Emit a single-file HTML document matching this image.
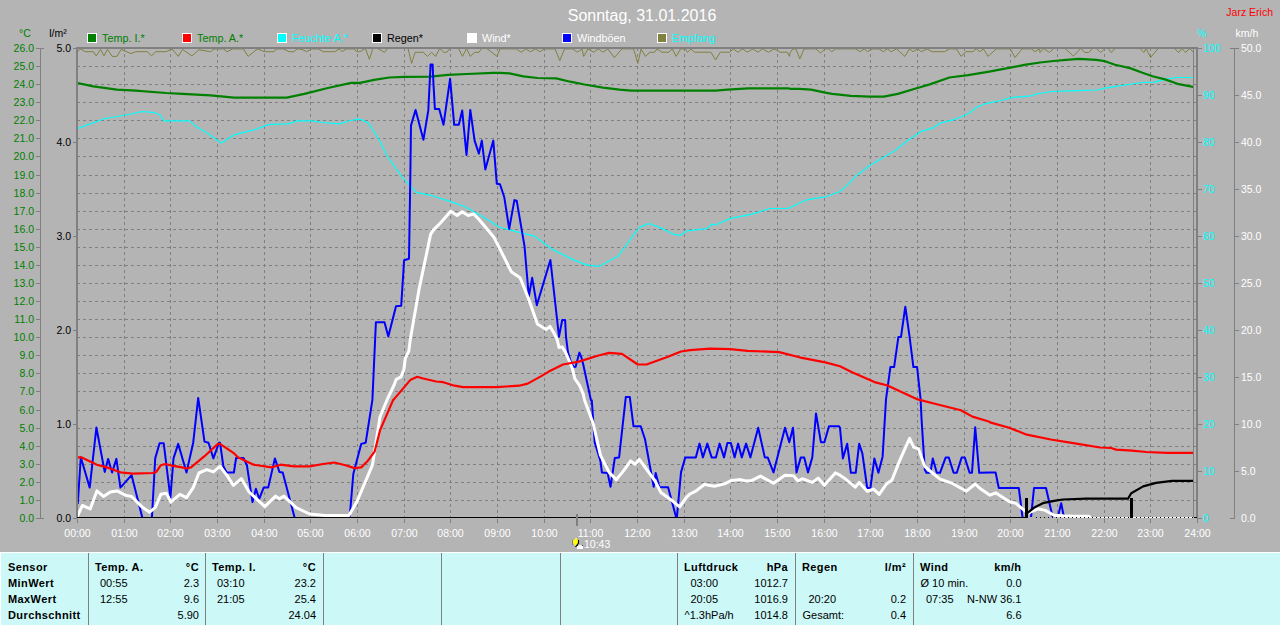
<!DOCTYPE html><html><head><meta charset="utf-8"><style>
html,body{margin:0;padding:0;width:1280px;height:625px;overflow:hidden;background:#b4b4b4;}
svg{display:block;position:absolute;left:0;top:0;font-family:"Liberation Sans", sans-serif;}
</style></head><body>
<svg width="1280" height="625" viewBox="0 0 1280 625">
<rect x="0" y="0" width="1280" height="625" fill="#b4b4b4"/>
<line x1="77" y1="500.5" x2="1196" y2="500.5" stroke="#808080" stroke-width="1" stroke-dasharray="3,3"/>
<line x1="77" y1="482.5" x2="1196" y2="482.5" stroke="#808080" stroke-width="1" stroke-dasharray="3,3"/>
<line x1="77" y1="464.5" x2="1196" y2="464.5" stroke="#808080" stroke-width="1" stroke-dasharray="3,3"/>
<line x1="77" y1="446.5" x2="1196" y2="446.5" stroke="#808080" stroke-width="1" stroke-dasharray="3,3"/>
<line x1="77" y1="428.5" x2="1196" y2="428.5" stroke="#808080" stroke-width="1" stroke-dasharray="3,3"/>
<line x1="77" y1="410.5" x2="1196" y2="410.5" stroke="#808080" stroke-width="1" stroke-dasharray="3,3"/>
<line x1="77" y1="391.5" x2="1196" y2="391.5" stroke="#808080" stroke-width="1" stroke-dasharray="3,3"/>
<line x1="77" y1="373.5" x2="1196" y2="373.5" stroke="#808080" stroke-width="1" stroke-dasharray="3,3"/>
<line x1="77" y1="355.5" x2="1196" y2="355.5" stroke="#808080" stroke-width="1" stroke-dasharray="3,3"/>
<line x1="77" y1="337.5" x2="1196" y2="337.5" stroke="#808080" stroke-width="1" stroke-dasharray="3,3"/>
<line x1="77" y1="319.5" x2="1196" y2="319.5" stroke="#808080" stroke-width="1" stroke-dasharray="3,3"/>
<line x1="77" y1="301.5" x2="1196" y2="301.5" stroke="#808080" stroke-width="1" stroke-dasharray="3,3"/>
<line x1="77" y1="283.5" x2="1196" y2="283.5" stroke="#808080" stroke-width="1" stroke-dasharray="3,3"/>
<line x1="77" y1="265.5" x2="1196" y2="265.5" stroke="#808080" stroke-width="1" stroke-dasharray="3,3"/>
<line x1="77" y1="247.5" x2="1196" y2="247.5" stroke="#808080" stroke-width="1" stroke-dasharray="3,3"/>
<line x1="77" y1="229.5" x2="1196" y2="229.5" stroke="#808080" stroke-width="1" stroke-dasharray="3,3"/>
<line x1="77" y1="211.5" x2="1196" y2="211.5" stroke="#808080" stroke-width="1" stroke-dasharray="3,3"/>
<line x1="77" y1="193.5" x2="1196" y2="193.5" stroke="#808080" stroke-width="1" stroke-dasharray="3,3"/>
<line x1="77" y1="175.5" x2="1196" y2="175.5" stroke="#808080" stroke-width="1" stroke-dasharray="3,3"/>
<line x1="77" y1="156.5" x2="1196" y2="156.5" stroke="#808080" stroke-width="1" stroke-dasharray="3,3"/>
<line x1="77" y1="138.5" x2="1196" y2="138.5" stroke="#808080" stroke-width="1" stroke-dasharray="3,3"/>
<line x1="77" y1="120.5" x2="1196" y2="120.5" stroke="#808080" stroke-width="1" stroke-dasharray="3,3"/>
<line x1="77" y1="102.5" x2="1196" y2="102.5" stroke="#808080" stroke-width="1" stroke-dasharray="3,3"/>
<line x1="77" y1="84.5" x2="1196" y2="84.5" stroke="#808080" stroke-width="1" stroke-dasharray="3,3"/>
<line x1="77" y1="66.5" x2="1196" y2="66.5" stroke="#808080" stroke-width="1" stroke-dasharray="3,3"/>
<line x1="124.5" y1="48" x2="124.5" y2="518" stroke="#808080" stroke-width="1" stroke-dasharray="3,3"/>
<line x1="170.5" y1="48" x2="170.5" y2="518" stroke="#808080" stroke-width="1" stroke-dasharray="3,3"/>
<line x1="217.5" y1="48" x2="217.5" y2="518" stroke="#808080" stroke-width="1" stroke-dasharray="3,3"/>
<line x1="264.5" y1="48" x2="264.5" y2="518" stroke="#808080" stroke-width="1" stroke-dasharray="3,3"/>
<line x1="310.5" y1="48" x2="310.5" y2="518" stroke="#808080" stroke-width="1" stroke-dasharray="3,3"/>
<line x1="357.5" y1="48" x2="357.5" y2="518" stroke="#808080" stroke-width="1" stroke-dasharray="3,3"/>
<line x1="404.5" y1="48" x2="404.5" y2="518" stroke="#808080" stroke-width="1" stroke-dasharray="3,3"/>
<line x1="450.5" y1="48" x2="450.5" y2="518" stroke="#808080" stroke-width="1" stroke-dasharray="3,3"/>
<line x1="497.5" y1="48" x2="497.5" y2="518" stroke="#808080" stroke-width="1" stroke-dasharray="3,3"/>
<line x1="544.5" y1="48" x2="544.5" y2="518" stroke="#808080" stroke-width="1" stroke-dasharray="3,3"/>
<line x1="590.5" y1="48" x2="590.5" y2="518" stroke="#808080" stroke-width="1" stroke-dasharray="3,3"/>
<line x1="637.5" y1="48" x2="637.5" y2="518" stroke="#808080" stroke-width="1" stroke-dasharray="3,3"/>
<line x1="684.5" y1="48" x2="684.5" y2="518" stroke="#808080" stroke-width="1" stroke-dasharray="3,3"/>
<line x1="730.5" y1="48" x2="730.5" y2="518" stroke="#808080" stroke-width="1" stroke-dasharray="3,3"/>
<line x1="777.5" y1="48" x2="777.5" y2="518" stroke="#808080" stroke-width="1" stroke-dasharray="3,3"/>
<line x1="824.5" y1="48" x2="824.5" y2="518" stroke="#808080" stroke-width="1" stroke-dasharray="3,3"/>
<line x1="870.5" y1="48" x2="870.5" y2="518" stroke="#808080" stroke-width="1" stroke-dasharray="3,3"/>
<line x1="917.5" y1="48" x2="917.5" y2="518" stroke="#808080" stroke-width="1" stroke-dasharray="3,3"/>
<line x1="964.5" y1="48" x2="964.5" y2="518" stroke="#808080" stroke-width="1" stroke-dasharray="3,3"/>
<line x1="1010.5" y1="48" x2="1010.5" y2="518" stroke="#808080" stroke-width="1" stroke-dasharray="3,3"/>
<line x1="1057.5" y1="48" x2="1057.5" y2="518" stroke="#808080" stroke-width="1" stroke-dasharray="3,3"/>
<line x1="1104.5" y1="48" x2="1104.5" y2="518" stroke="#808080" stroke-width="1" stroke-dasharray="3,3"/>
<line x1="1150.5" y1="48" x2="1150.5" y2="518" stroke="#808080" stroke-width="1" stroke-dasharray="3,3"/>
<rect x="76" y="47" width="1122" height="2" fill="#808080"/>
<rect x="76" y="47" width="2" height="471" fill="#808080"/>
<rect x="1196" y="47" width="2" height="471" fill="#808080"/>
<rect x="1193" y="49" width="1" height="469" fill="#808080"/>
<rect x="40" y="48" width="1" height="470" fill="#808080"/>
<rect x="36" y="518" width="8" height="1" fill="#808080"/>
<text x="34" y="522" text-anchor="end" fill="#008000" font-size="10.5">0.0</text>
<rect x="36" y="500" width="4" height="1" fill="#808080"/>
<text x="34" y="504" text-anchor="end" fill="#008000" font-size="10.5">1.0</text>
<rect x="36" y="482" width="4" height="1" fill="#808080"/>
<text x="34" y="486" text-anchor="end" fill="#008000" font-size="10.5">2.0</text>
<rect x="36" y="464" width="4" height="1" fill="#808080"/>
<text x="34" y="468" text-anchor="end" fill="#008000" font-size="10.5">3.0</text>
<rect x="36" y="446" width="4" height="1" fill="#808080"/>
<text x="34" y="450" text-anchor="end" fill="#008000" font-size="10.5">4.0</text>
<rect x="36" y="428" width="4" height="1" fill="#808080"/>
<text x="34" y="432" text-anchor="end" fill="#008000" font-size="10.5">5.0</text>
<rect x="36" y="410" width="4" height="1" fill="#808080"/>
<text x="34" y="414" text-anchor="end" fill="#008000" font-size="10.5">6.0</text>
<rect x="36" y="391" width="4" height="1" fill="#808080"/>
<text x="34" y="395" text-anchor="end" fill="#008000" font-size="10.5">7.0</text>
<rect x="36" y="373" width="4" height="1" fill="#808080"/>
<text x="34" y="377" text-anchor="end" fill="#008000" font-size="10.5">8.0</text>
<rect x="36" y="355" width="4" height="1" fill="#808080"/>
<text x="34" y="359" text-anchor="end" fill="#008000" font-size="10.5">9.0</text>
<rect x="36" y="337" width="4" height="1" fill="#808080"/>
<text x="34" y="341" text-anchor="end" fill="#008000" font-size="10.5">10.0</text>
<rect x="36" y="319" width="4" height="1" fill="#808080"/>
<text x="34" y="323" text-anchor="end" fill="#008000" font-size="10.5">11.0</text>
<rect x="36" y="301" width="4" height="1" fill="#808080"/>
<text x="34" y="305" text-anchor="end" fill="#008000" font-size="10.5">12.0</text>
<rect x="36" y="283" width="4" height="1" fill="#808080"/>
<text x="34" y="287" text-anchor="end" fill="#008000" font-size="10.5">13.0</text>
<rect x="36" y="265" width="4" height="1" fill="#808080"/>
<text x="34" y="269" text-anchor="end" fill="#008000" font-size="10.5">14.0</text>
<rect x="36" y="247" width="4" height="1" fill="#808080"/>
<text x="34" y="251" text-anchor="end" fill="#008000" font-size="10.5">15.0</text>
<rect x="36" y="229" width="4" height="1" fill="#808080"/>
<text x="34" y="233" text-anchor="end" fill="#008000" font-size="10.5">16.0</text>
<rect x="36" y="211" width="4" height="1" fill="#808080"/>
<text x="34" y="215" text-anchor="end" fill="#008000" font-size="10.5">17.0</text>
<rect x="36" y="193" width="4" height="1" fill="#808080"/>
<text x="34" y="197" text-anchor="end" fill="#008000" font-size="10.5">18.0</text>
<rect x="36" y="175" width="4" height="1" fill="#808080"/>
<text x="34" y="179" text-anchor="end" fill="#008000" font-size="10.5">19.0</text>
<rect x="36" y="156" width="4" height="1" fill="#808080"/>
<text x="34" y="160" text-anchor="end" fill="#008000" font-size="10.5">20.0</text>
<rect x="36" y="138" width="4" height="1" fill="#808080"/>
<text x="34" y="142" text-anchor="end" fill="#008000" font-size="10.5">21.0</text>
<rect x="36" y="120" width="4" height="1" fill="#808080"/>
<text x="34" y="124" text-anchor="end" fill="#008000" font-size="10.5">22.0</text>
<rect x="36" y="102" width="4" height="1" fill="#808080"/>
<text x="34" y="106" text-anchor="end" fill="#008000" font-size="10.5">23.0</text>
<rect x="36" y="84" width="4" height="1" fill="#808080"/>
<text x="34" y="88" text-anchor="end" fill="#008000" font-size="10.5">24.0</text>
<rect x="36" y="66" width="4" height="1" fill="#808080"/>
<text x="34" y="70" text-anchor="end" fill="#008000" font-size="10.5">25.0</text>
<rect x="36" y="48" width="8" height="1" fill="#808080"/>
<text x="34" y="52" text-anchor="end" fill="#008000" font-size="10.5">26.0</text>
<rect x="73" y="518" width="4" height="1" fill="#808080"/>
<text x="71" y="522" text-anchor="end" fill="#000" font-size="10.5">0.0</text>
<rect x="73" y="424" width="4" height="1" fill="#808080"/>
<text x="71" y="428" text-anchor="end" fill="#000" font-size="10.5">1.0</text>
<rect x="73" y="330" width="4" height="1" fill="#808080"/>
<text x="71" y="334" text-anchor="end" fill="#000" font-size="10.5">2.0</text>
<rect x="73" y="236" width="4" height="1" fill="#808080"/>
<text x="71" y="240" text-anchor="end" fill="#000" font-size="10.5">3.0</text>
<rect x="73" y="142" width="4" height="1" fill="#808080"/>
<text x="71" y="146" text-anchor="end" fill="#000" font-size="10.5">4.0</text>
<rect x="73" y="48" width="4" height="1" fill="#808080"/>
<text x="71" y="52" text-anchor="end" fill="#000" font-size="10.5">5.0</text>
<rect x="1197" y="518" width="5" height="1" fill="#808080"/>
<text x="1203" y="522" fill="#00ffff" font-size="10.5">0</text>
<rect x="1197" y="471" width="5" height="1" fill="#808080"/>
<text x="1203" y="475" fill="#00ffff" font-size="10.5">10</text>
<rect x="1197" y="424" width="5" height="1" fill="#808080"/>
<text x="1203" y="428" fill="#00ffff" font-size="10.5">20</text>
<rect x="1197" y="377" width="5" height="1" fill="#808080"/>
<text x="1203" y="381" fill="#00ffff" font-size="10.5">30</text>
<rect x="1197" y="330" width="5" height="1" fill="#808080"/>
<text x="1203" y="334" fill="#00ffff" font-size="10.5">40</text>
<rect x="1197" y="283" width="5" height="1" fill="#808080"/>
<text x="1203" y="287" fill="#00ffff" font-size="10.5">50</text>
<rect x="1197" y="236" width="5" height="1" fill="#808080"/>
<text x="1203" y="240" fill="#00ffff" font-size="10.5">60</text>
<rect x="1197" y="189" width="5" height="1" fill="#808080"/>
<text x="1203" y="193" fill="#00ffff" font-size="10.5">70</text>
<rect x="1197" y="142" width="5" height="1" fill="#808080"/>
<text x="1203" y="146" fill="#00ffff" font-size="10.5">80</text>
<rect x="1197" y="95" width="5" height="1" fill="#808080"/>
<text x="1203" y="99" fill="#00ffff" font-size="10.5">90</text>
<rect x="1197" y="48" width="5" height="1" fill="#808080"/>
<text x="1203" y="52" fill="#00ffff" font-size="10.5">100</text>
<rect x="1234" y="48" width="1" height="470" fill="#808080"/>
<rect x="1230" y="518" width="5" height="1" fill="#808080"/>
<text x="1241" y="522" fill="#fff" font-size="10.5">0.0</text>
<rect x="1234" y="471" width="5" height="1" fill="#808080"/>
<text x="1241" y="475" fill="#fff" font-size="10.5">5.0</text>
<rect x="1234" y="424" width="5" height="1" fill="#808080"/>
<text x="1241" y="428" fill="#fff" font-size="10.5">10.0</text>
<rect x="1234" y="377" width="5" height="1" fill="#808080"/>
<text x="1241" y="381" fill="#fff" font-size="10.5">15.0</text>
<rect x="1234" y="330" width="5" height="1" fill="#808080"/>
<text x="1241" y="334" fill="#fff" font-size="10.5">20.0</text>
<rect x="1234" y="283" width="5" height="1" fill="#808080"/>
<text x="1241" y="287" fill="#fff" font-size="10.5">25.0</text>
<rect x="1234" y="236" width="5" height="1" fill="#808080"/>
<text x="1241" y="240" fill="#fff" font-size="10.5">30.0</text>
<rect x="1234" y="189" width="5" height="1" fill="#808080"/>
<text x="1241" y="193" fill="#fff" font-size="10.5">35.0</text>
<rect x="1234" y="142" width="5" height="1" fill="#808080"/>
<text x="1241" y="146" fill="#fff" font-size="10.5">40.0</text>
<rect x="1234" y="95" width="5" height="1" fill="#808080"/>
<text x="1241" y="99" fill="#fff" font-size="10.5">45.0</text>
<rect x="1230" y="48" width="9" height="1" fill="#808080"/>
<text x="1241" y="52" fill="#fff" font-size="10.5">50.0</text>
<rect x="77" y="519" width="1" height="4" fill="#808080"/>
<text x="77.5" y="537" text-anchor="middle" fill="#fff" font-size="10.5">00:00</text>
<rect x="124" y="519" width="1" height="4" fill="#808080"/>
<text x="124.5" y="537" text-anchor="middle" fill="#fff" font-size="10.5">01:00</text>
<rect x="170" y="519" width="1" height="4" fill="#808080"/>
<text x="170.5" y="537" text-anchor="middle" fill="#fff" font-size="10.5">02:00</text>
<rect x="217" y="519" width="1" height="4" fill="#808080"/>
<text x="217.5" y="537" text-anchor="middle" fill="#fff" font-size="10.5">03:00</text>
<rect x="264" y="519" width="1" height="4" fill="#808080"/>
<text x="264.5" y="537" text-anchor="middle" fill="#fff" font-size="10.5">04:00</text>
<rect x="310" y="519" width="1" height="4" fill="#808080"/>
<text x="310.5" y="537" text-anchor="middle" fill="#fff" font-size="10.5">05:00</text>
<rect x="357" y="519" width="1" height="4" fill="#808080"/>
<text x="357.5" y="537" text-anchor="middle" fill="#fff" font-size="10.5">06:00</text>
<rect x="404" y="519" width="1" height="4" fill="#808080"/>
<text x="404.5" y="537" text-anchor="middle" fill="#fff" font-size="10.5">07:00</text>
<rect x="450" y="519" width="1" height="4" fill="#808080"/>
<text x="450.5" y="537" text-anchor="middle" fill="#fff" font-size="10.5">08:00</text>
<rect x="497" y="519" width="1" height="4" fill="#808080"/>
<text x="497.5" y="537" text-anchor="middle" fill="#fff" font-size="10.5">09:00</text>
<rect x="544" y="519" width="1" height="4" fill="#808080"/>
<text x="544.5" y="537" text-anchor="middle" fill="#fff" font-size="10.5">10:00</text>
<rect x="590" y="519" width="1" height="4" fill="#808080"/>
<text x="590.5" y="537" text-anchor="middle" fill="#fff" font-size="10.5">11:00</text>
<rect x="637" y="519" width="1" height="4" fill="#808080"/>
<text x="637.5" y="537" text-anchor="middle" fill="#fff" font-size="10.5">12:00</text>
<rect x="684" y="519" width="1" height="4" fill="#808080"/>
<text x="684.5" y="537" text-anchor="middle" fill="#fff" font-size="10.5">13:00</text>
<rect x="730" y="519" width="1" height="4" fill="#808080"/>
<text x="730.5" y="537" text-anchor="middle" fill="#fff" font-size="10.5">14:00</text>
<rect x="777" y="519" width="1" height="4" fill="#808080"/>
<text x="777.5" y="537" text-anchor="middle" fill="#fff" font-size="10.5">15:00</text>
<rect x="824" y="519" width="1" height="4" fill="#808080"/>
<text x="824.5" y="537" text-anchor="middle" fill="#fff" font-size="10.5">16:00</text>
<rect x="870" y="519" width="1" height="4" fill="#808080"/>
<text x="870.5" y="537" text-anchor="middle" fill="#fff" font-size="10.5">17:00</text>
<rect x="917" y="519" width="1" height="4" fill="#808080"/>
<text x="917.5" y="537" text-anchor="middle" fill="#fff" font-size="10.5">18:00</text>
<rect x="964" y="519" width="1" height="4" fill="#808080"/>
<text x="964.5" y="537" text-anchor="middle" fill="#fff" font-size="10.5">19:00</text>
<rect x="1010" y="519" width="1" height="4" fill="#808080"/>
<text x="1010.5" y="537" text-anchor="middle" fill="#fff" font-size="10.5">20:00</text>
<rect x="1057" y="519" width="1" height="4" fill="#808080"/>
<text x="1057.5" y="537" text-anchor="middle" fill="#fff" font-size="10.5">21:00</text>
<rect x="1104" y="519" width="1" height="4" fill="#808080"/>
<text x="1104.5" y="537" text-anchor="middle" fill="#fff" font-size="10.5">22:00</text>
<rect x="1150" y="519" width="1" height="4" fill="#808080"/>
<text x="1150.5" y="537" text-anchor="middle" fill="#fff" font-size="10.5">23:00</text>
<rect x="1197" y="519" width="1" height="4" fill="#808080"/>
<text x="1197.5" y="537" text-anchor="middle" fill="#fff" font-size="10.5">24:00</text>
<text x="25" y="37" text-anchor="middle" fill="#008000" font-size="10.5">°C</text>
<text x="58" y="37" text-anchor="middle" fill="#000" font-size="10.5">l/m²</text>
<text x="1202" y="37" text-anchor="middle" fill="#00ffff" font-size="10.5">%</text>
<text x="1247" y="37" text-anchor="middle" fill="#fff" font-size="10.5">km/h</text>
<text x="1273" y="16" text-anchor="end" fill="#ff0000" font-size="10.5">Jarz Erich</text>
<text x="642" y="21" text-anchor="middle" fill="#fff" font-size="16">Sonntag, 31.01.2016</text>
<rect x="87.5" y="33.5" width="9" height="9" fill="#008000" stroke="#fff" stroke-width="1"/>
<text x="102" y="42" fill="#008000" font-size="10.8">Temp. I.*</text>
<rect x="182.5" y="33.5" width="9" height="9" fill="#ff0000" stroke="#fff" stroke-width="1"/>
<text x="197" y="42" fill="#008000" font-size="10.8">Temp. A.*</text>
<rect x="277.5" y="33.5" width="9" height="9" fill="#00ffff" stroke="#fff" stroke-width="1"/>
<text x="292" y="42" fill="#00ffff" font-size="10.8">Feuchte A.*</text>
<rect x="372.5" y="33.5" width="9" height="9" fill="#000000" stroke="#fff" stroke-width="1"/>
<text x="387" y="42" fill="#000" font-size="10.8">Regen*</text>
<rect x="467.5" y="33.5" width="9" height="9" fill="#ffffff" stroke="#fff" stroke-width="1"/>
<text x="482" y="42" fill="#fff" font-size="10.8">Wind*</text>
<rect x="562.5" y="33.5" width="9" height="9" fill="#0000ff" stroke="#fff" stroke-width="1"/>
<text x="577" y="42" fill="#fff" font-size="10.8">Windböen</text>
<rect x="657.5" y="33.5" width="9" height="9" fill="#808040" stroke="#fff" stroke-width="1"/>
<text x="672" y="42" fill="#00ffff" font-size="10.8">Empfang</text>
<clipPath id="pc"><rect x="78" y="49" width="1115" height="469"/></clipPath><g clip-path="url(#pc)" fill="none" stroke-linejoin="round" stroke-linecap="round">
<polyline points="77.5,51.7 80.5,48.9 85.2,51.7 93.4,51.7 96.2,55.9 100.5,49.4 104.0,55.9 107.5,49.4 112.2,56.4 116.9,56.4 121.1,49.4 130.9,53.6 135.6,51.7 147.3,51.7 151.6,55.9 155.5,51.7 166.1,51.7 172.0,48.9 178.3,56.4 182.5,49.4 191.9,55.9 198.9,49.8 210.6,51.7 214.1,48.9 223.5,48.9 227.0,51.7 232.9,48.9 243.4,48.9 248.1,56.4 257.5,48.9 264.5,51.7 273.9,51.7 276.2,48.9 283.3,48.9 289.1,51.7 293.8,51.7 297.3,48.9 302.0,49.4 306.7,51.7 311.4,48.9 318.4,48.9 323.1,51.7 334.8,51.7 339.5,48.9 341.9,51.7 346.6,48.9 353.6,48.9 357.1,51.7 360.0,51.7 365.3,48.4 369.4,59.3 372.9,48.4 377.6,48.4 384.6,52.3 387.5,48.4 408.0,48.4 411.6,63.4 415.1,52.3 423.3,52.3 427.4,56.4 431.5,52.3 435.6,56.4 439.7,48.4 443.8,52.3 446.7,52.3 450.2,48.4 458.4,48.4 462.5,56.4 466.6,48.4 470.2,56.4 474.8,52.3 478.9,52.3 481.9,48.4 486.6,48.4 497.1,56.4 500.0,48.9 516.4,48.9 521.1,52.2 525.8,48.9 530.5,51.7 535.2,48.9 539.8,51.7 544.5,48.9 555.1,48.9 559.8,60.6 564.5,48.9 572.7,48.9 577.3,52.2 582.0,48.9 583.7,56.4 587.9,48.9 593.8,52.2 598.4,48.9 603.1,52.2 607.8,48.9 614.4,57.6 621.9,48.9 633.6,48.9 637.8,63.4 641.1,48.9 645.3,56.4 650.0,52.2 654.7,52.2 657.0,48.9 661.7,52.2 668.8,52.2 672.3,48.9 676.2,56.4 680.5,48.9 685.2,48.9 687.5,52.2 691.0,48.9 694.5,52.2 710.9,52.2 715.6,59.9 720.3,52.2 729.7,52.2 733.2,48.9 737.9,52.2 742.6,48.9 747.3,52.2 753.1,48.9 757.8,52.2 762.5,48.9 768.4,52.2 774.2,48.9 780.1,52.2 787.1,52.2 789.5,56.4 790.0,52.9 792.8,48.9 795.9,48.9 799.8,58.8 804.1,48.9 815.8,48.9 820.5,52.9 825.2,48.9 828.7,48.9 831.7,51.7 835.7,48.9 855.6,48.9 859.8,51.7 864.5,48.9 867.3,51.7 872.0,48.9 879.1,48.9 883.3,51.7 887.3,48.9 891.2,51.7 896.6,48.9 899.7,51.7 904.8,56.4 909.5,48.9 913.0,51.7 917.7,48.9 921.2,51.7 927.1,48.9 931.8,51.7 944.7,51.7 949.4,48.9 956.4,48.9 961.1,56.4 965.8,51.7 972.8,51.7 976.3,48.9 979.8,51.7 983.4,48.9 988.0,56.4 996.2,48.9 1010.3,48.9 1015.0,57.6 1022.0,48.9 1031.4,48.9 1034.9,51.7 1039.6,48.9 1040.0,52.5 1043.8,48.5 1049.4,52.5 1053.8,48.5 1065.0,48.5 1073.5,56.2 1080.6,48.5 1085.0,52.5 1088.8,52.5 1092.5,48.5 1096.2,48.5 1100.6,52.5 1105.0,48.5 1108.1,48.5 1111.2,52.5 1115.0,48.5 1140.0,48.5 1143.8,52.5 1146.2,48.5 1150.6,57.5 1158.1,48.5 1174.4,48.5 1178.8,52.5 1181.9,48.5 1185.6,52.5 1189.4,48.5 1193.1,51.9" stroke="#808040" stroke-width="1.0"/>
<polyline points="77.5,128.6 88.8,124.4 105.2,118.5 126.2,115.0 142.7,111.5 154.4,112.7 160.2,115.0 163.8,120.9 175.5,120.9 189.5,120.9 196.6,126.7 208.3,133.8 221.2,143.1 234.1,134.9 252.8,130.2 269.2,124.4 288.0,123.9 297.3,120.9 311.4,120.9 323.1,122.5 339.5,123.9 350.0,120.5 360.1,119.1 368.7,123.4 378.8,139.2 387.4,156.5 401.8,176.6 416.2,192.4 430.6,195.3 449.3,201.1 465.1,206.8 485.3,218.3 500.0,227.5 517.3,231.8 534.5,236.1 551.8,249.1 571.9,259.1 586.3,264.9 599.3,266.3 618.0,256.3 638.1,228.9 640.0,227.1 649.0,223.5 662.4,228.6 673.6,234.2 680.3,235.4 687.0,230.9 707.2,228.6 711.7,224.2 716.2,224.8 729.6,218.6 752.0,214.1 769.9,208.5 787.8,208.5 805.8,200.2 814.7,198.4 825.9,196.8 839.4,191.7 846.1,186.1 857.3,174.9 870.7,164.8 879.1,160.0 895.5,150.2 907.2,140.8 921.2,131.4 933.0,127.9 940.0,123.2 954.1,119.7 968.1,113.8 977.5,106.8 986.9,103.3 1000.9,100.5 1012.7,97.4 1031.4,95.8 1038.4,93.4 1040.0,93.5 1051.2,91.5 1077.5,90.6 1097.5,90.0 1105.0,88.1 1117.5,86.2 1132.5,84.0 1142.5,82.5 1155.0,82.2 1165.0,79.4 1176.2,77.5 1193.1,77.5" stroke="#00ffff" stroke-width="1.2"/>
<polyline points="77.5,82.9 93.4,86.4 116.9,89.7 135.6,90.6 166.1,93.0 182.5,93.9 210.6,95.3 234.1,97.7 286.8,97.7 304.4,93.9 327.8,88.0 351.2,82.9 360.0,82.8 374.1,79.8 389.3,77.5 404.5,76.9 430.3,76.6 447.9,74.9 466.6,74.0 493.6,72.8 500.0,72.8 509.4,73.3 523.4,76.3 537.5,78.0 556.2,78.4 570.3,81.7 584.4,84.5 603.1,87.6 619.5,89.7 631.2,90.6 699.2,90.6 715.6,90.6 727.3,89.7 748.4,88.3 788.3,88.3 790.0,88.8 799.4,88.8 811.1,89.7 825.2,92.7 832.2,93.9 850.9,95.8 869.7,96.7 883.8,96.7 897.8,93.9 916.6,88.3 930.6,84.1 949.4,77.5 968.1,75.2 989.2,71.6 1010.3,67.7 1024.4,64.8 1040.0,62.5 1053.8,61.0 1066.2,59.8 1078.8,58.8 1096.2,59.8 1105.0,61.2 1115.0,64.8 1130.0,68.1 1142.5,72.8 1152.5,76.2 1165.0,79.4 1177.5,83.8 1193.1,86.9" stroke="#008000" stroke-width="2.2"/>
<polyline points="77.8,503.2 80.8,457.3 89.7,487.6 96.4,427.5 104.7,471.9 108.1,458.9 112.1,472.5 116.4,458.9 120.4,487.6 131.6,475.2 142.8,519.5 151.8,519.5 155.2,458.4 159.6,443.2 163.7,443.2 170.4,497.6 173.5,458.4 178.2,443.9 186.5,472.5 193.2,442.7 198.2,397.9 204.5,441.6 208.5,442.7 213.4,458.4 219.0,442.7 220.0,442.7 223.4,466.3 226.7,472.5 233.9,472.5 236.1,458.0 243.5,458.0 246.9,465.2 252.5,502.1 255.9,488.7 259.2,498.8 263.7,487.6 268.2,487.6 274.9,458.4 279.4,471.9 282.7,472.5 295.1,519.5 349.5,519.5 353.3,474.1 361.2,443.9 365.7,442.7 372.4,399.9 375.9,322.2 384.5,322.2 388.3,336.5 396.0,306.3 401.2,305.8 404.1,260.3 409.0,258.8 410.4,170.9 411.0,125.4 415.6,109.9 423.4,139.8 428.3,110.4 430.6,64.4 432.6,64.4 433.5,84.5 434.9,109.0 439.2,109.0 443.5,124.8 450.1,78.8 454.2,124.8 458.8,124.8 462.2,110.4 466.5,155.0 470.3,109.9 474.6,140.6 478.9,153.6 481.8,140.6 485.3,169.4 493.3,140.6 496.8,183.8 500.0,184.3 504.3,197.3 509.2,228.9 514.4,200.1 516.7,200.7 524.5,246.2 528.8,296.5 532.2,277.8 536.8,305.2 550.4,260.0 559.0,336.6 562.2,320.0 565.1,320.0 566.0,336.6 567.9,352.0 570.5,360.9 573.7,367.1 575.6,366.7 579.4,352.6 581.3,357.1 583.3,364.8 590.9,400.0 591.8,400.4 594.7,442.2 600.4,460.9 601.9,472.4 607.6,472.9 610.5,486.8 614.8,458.0 619.1,457.4 625.8,397.0 629.8,397.0 633.5,426.3 640.7,426.3 645.0,439.3 653.7,486.8 655.7,472.9 659.4,487.3 668.1,487.3 676.7,519.5 681.0,472.4 685.3,457.4 690.0,457.4 695.8,457.4 699.5,443.6 702.9,457.4 707.3,443.6 711.6,457.4 715.9,457.4 719.6,443.6 724.0,457.4 727.4,443.0 730.9,443.0 734.6,457.4 738.1,443.6 741.8,457.4 746.1,443.6 750.4,457.4 758.2,427.8 764.8,457.4 767.7,457.4 773.5,472.4 785.0,427.8 789.3,442.2 793.0,427.8 796.5,472.4 800.8,457.4 804.2,457.4 808.0,472.4 812.3,457.4 816.0,413.4 820.9,442.2 824.4,442.2 829.0,426.3 839.1,426.3 840.0,428.0 842.9,458.4 847.2,443.7 850.9,472.8 855.7,472.8 859.2,443.7 862.4,453.6 867.2,488.0 870.4,488.0 874.4,458.4 878.4,472.8 882.4,457.6 882.6,456.9 886.0,399.4 890.4,367.1 894.1,367.1 898.4,336.9 901.0,336.9 905.3,306.7 909.6,336.9 913.4,367.1 917.1,367.1 920.6,399.4 921.6,420.0 924.8,469.6 926.4,472.8 930.4,472.8 932.8,458.4 936.8,472.8 940.0,472.8 945.6,457.6 948.8,457.6 953.6,472.8 956.8,472.8 961.6,457.6 964.8,457.6 969.6,472.8 972.0,472.8 975.2,427.2 979.2,472.8 990.0,472.5 995.6,472.5 998.8,488.0 1018.8,488.0 1022.8,519.5 1030.8,519.5 1034.0,488.0 1046.0,488.0 1053.2,519.5 1057.2,519.5 1061.2,503.2 1064.4,519.5" stroke="#0000ff" stroke-width="2.0"/>
<polyline points="77.8,515.6 82.3,505.5 90.2,508.9 96.9,490.9 103.6,496.5 110.3,492.0 117.1,490.9 126.0,495.4 131.6,496.5 141.7,506.6 149.6,512.2 155.2,507.7 160.8,494.3 166.4,493.2 170.8,502.1 179.8,494.3 186.5,497.6 193.2,487.6 198.9,473.0 206.7,469.6 213.4,471.9 220.0,466.3 226.7,475.2 233.4,485.3 241.3,478.6 249.1,492.0 264.8,506.6 275.6,496.1 279.4,498.8 283.9,496.1 296.2,507.7 309.6,514.0 325.3,515.6 348.9,515.6 356.7,502.1 372.4,465.2 380.0,417.0 387.0,400.0 394.1,385.0 396.2,379.4 401.1,376.8 403.9,369.5 405.3,358.3 408.8,351.2 410.2,340.0 419.1,289.1 430.6,234.4 433.5,229.9 440.6,222.7 450.7,211.2 457.1,215.5 462.2,211.7 468.0,215.5 473.7,214.0 479.5,220.0 493.9,237.3 500.0,249.1 511.5,272.1 520.1,277.8 528.8,299.4 537.4,323.9 546.0,329.6 550.0,326.4 554.5,334.1 557.0,339.2 559.0,347.5 562.2,346.9 565.4,352.0 569.2,360.9 572.4,368.6 574.9,378.8 579.4,385.2 583.3,394.2 584.5,400.0 593.2,423.5 600.4,455.1 609.1,472.4 616.3,479.6 623.5,470.9 630.6,460.9 635.0,464.3 639.3,459.4 655.1,481.0 660.9,492.5 670.9,499.7 679.6,506.9 686.8,496.8 690.0,494.0 695.8,491.1 704.4,484.5 714.5,486.2 724.5,483.9 731.7,480.4 740.4,479.6 746.1,481.0 751.9,480.4 760.5,476.1 773.5,483.3 785.0,475.3 793.6,475.8 797.9,481.0 802.2,478.7 812.3,482.4 818.1,478.1 824.4,485.3 835.3,472.9 840.0,475.2 844.8,478.4 855.2,487.2 859.2,482.4 867.2,491.2 873.6,489.1 879.2,494.4 886.4,484.0 892.0,480.0 899.2,461.6 909.6,438.4 913.6,447.2 918.4,448.8 924.8,466.4 931.2,472.0 940.0,479.2 952.0,483.2 966.4,491.2 975.2,484.0 980.8,489.1 990.0,495.2 995.6,492.8 1009.2,501.6 1015.6,503.2 1024.4,510.4 1028.4,512.8 1038.0,508.8 1045.2,510.4 1054.0,515.2 1063.6,516.0 1073.2,516.3 1089.2,516.3" stroke="#ffffff" stroke-width="3.0"/>
<polyline points="77.8,457.3 81.2,457.3 96.9,464.7 107.0,467.4 120.4,472.3 132.7,473.7 152.9,473.0 156.3,471.9 160.8,465.2 165.2,464.0 172.0,465.6 182.0,467.4 186.5,468.5 191.0,467.4 204.5,456.2 217.9,443.9 220.0,443.9 233.4,452.8 237.9,457.3 253.6,464.7 271.5,467.4 280.5,464.7 293.9,466.3 309.6,466.3 323.1,464.0 334.3,462.5 345.5,465.2 354.5,468.1 361.2,467.4 367.9,460.7 374.6,451.7 380.0,430.4 393.2,399.9 394.1,399.1 410.2,380.1 417.3,376.8 422.2,378.2 436.2,381.5 443.3,382.2 454.5,385.7 463.0,387.1 496.7,387.1 519.2,385.7 527.7,383.6 541.7,375.9 548.8,371.6 563.0,364.5 578.8,361.6 597.6,355.8 609.1,352.9 622.0,353.8 637.8,364.5 646.5,364.5 666.6,357.3 681.0,351.5 690.0,350.1 710.1,348.6 730.3,349.2 747.6,350.9 779.2,352.1 799.4,357.3 825.3,362.4 840.0,366.3 851.5,372.0 874.5,382.1 887.5,385.5 917.7,399.4 937.8,404.5 960.9,410.3 972.4,416.6 989.6,421.8 990.0,422.4 1009.2,427.7 1026.8,434.7 1050.8,439.5 1076.4,443.7 1100.0,447.5 1111.2,448.0 1116.0,449.6 1132.0,450.7 1146.4,452.0 1167.2,452.8 1193.6,452.8" stroke="#ff0000" stroke-width="2.2"/>
<rect x="1025" y="498" width="3" height="20" fill="#000" stroke="none"/>
<rect x="1130" y="498" width="3" height="20" fill="#000" stroke="none"/>
<polyline points="1027.6,512.8 1034.8,507.2 1042.8,503.2 1054.0,500.8 1062.8,499.5 1086.0,498.7 1100.0,498.7 1128.0,498.7 1131.2,493.3 1143.2,486.4 1156.0,482.9 1172.0,480.8 1193.6,480.8" stroke="#000000" stroke-width="2.2"/>
</g>
<rect x="77" y="517" width="1120" height="1" fill="#000"/>
<rect x="1026" y="517" width="168" height="1" fill="#b4b4b4"/>
<polyline points="1054,515.3 1063,516.3 1072,516.3" fill="none" stroke="#fff" stroke-width="3"/>
<rect x="1072" y="516" width="19" height="2" fill="#fff"/>
<rect x="1091" y="517" width="102" height="1" fill="#fff"/>
<rect x="1025" y="498" width="3" height="20" fill="#000"/>
<rect x="1130" y="498" width="3" height="20" fill="#000"/>
<rect x="1036" y="517" width="1" height="1" fill="#000"/>
<rect x="1040" y="517" width="1" height="1" fill="#000"/>
<rect x="1044" y="517" width="1" height="1" fill="#000"/>
<rect x="1048" y="517" width="1" height="1" fill="#000"/>
<rect x="1052" y="517" width="1" height="1" fill="#000"/>
<rect x="1056" y="517" width="1" height="1" fill="#000"/>
<rect x="1060" y="517" width="1" height="1" fill="#000"/>
<rect x="1064" y="517" width="1" height="1" fill="#000"/>
<rect x="1068" y="517" width="1" height="1" fill="#000"/>
<rect x="1072" y="517" width="1" height="1" fill="#000"/>
<rect x="1076" y="517" width="1" height="1" fill="#000"/>
<rect x="1080" y="517" width="1" height="1" fill="#000"/>
<rect x="1084" y="517" width="1" height="1" fill="#000"/>
<rect x="1088" y="517" width="1" height="1" fill="#000"/>
<rect x="1092" y="517" width="1" height="1" fill="#000"/>
<rect x="1096" y="517" width="1" height="1" fill="#000"/>
<rect x="1100" y="517" width="1" height="1" fill="#000"/>
<rect x="1104" y="517" width="1" height="1" fill="#000"/>
<rect x="1108" y="517" width="1" height="1" fill="#000"/>
<rect x="1112" y="517" width="1" height="1" fill="#000"/>
<rect x="1116" y="517" width="1" height="1" fill="#000"/>
<rect x="1120" y="517" width="1" height="1" fill="#000"/>
<rect x="1124" y="517" width="1" height="1" fill="#000"/>
<rect x="1128" y="517" width="1" height="1" fill="#000"/>
<rect x="1132" y="517" width="1" height="1" fill="#000"/>
<rect x="1136" y="517" width="1" height="1" fill="#000"/>
<rect x="1140" y="517" width="1" height="1" fill="#000"/>
<rect x="1144" y="517" width="1" height="1" fill="#000"/>
<rect x="1148" y="517" width="1" height="1" fill="#000"/>
<rect x="1152" y="517" width="1" height="1" fill="#000"/>
<rect x="1156" y="517" width="1" height="1" fill="#000"/>
<rect x="1160" y="517" width="1" height="1" fill="#000"/>
<rect x="1164" y="517" width="1" height="1" fill="#000"/>
<rect x="1168" y="517" width="1" height="1" fill="#000"/>
<rect x="1172" y="517" width="1" height="1" fill="#000"/>
<rect x="1176" y="517" width="1" height="1" fill="#000"/>
<rect x="1180" y="517" width="1" height="1" fill="#000"/>
<rect x="1184" y="517" width="1" height="1" fill="#000"/>
<rect x="1188" y="517" width="1" height="1" fill="#000"/>
<rect x="1192" y="517" width="1" height="1" fill="#000"/>
<rect x="576" y="514" width="2" height="12" fill="#808080"/>
<text x="584" y="548" fill="#fff" font-size="10.5">10:43</text>
<path d="M577 549 L577 546.5 Q578 545 580 545 Q582 545 583 546.5 L583 549 Z" fill="#fff"/>
<rect x="577" y="545" width="1" height="1" fill="#3030b0"/><rect x="582" y="545" width="1" height="1" fill="#3030b0"/>
<path d="M575 538 L577 538 L577 540 L578.5 540 L578.5 543 L576 546.5 L573 543 L573 540 L575 540 Z" fill="#ffff00"/>
<path d="M578.5 540 L578.5 543 L575.5 547" fill="none" stroke="#000" stroke-width="1.1"/>
<rect x="572" y="540" width="1" height="5" fill="#6060d0" opacity="0.7"/>
<rect x="0" y="552" width="1280" height="73" fill="#ccf8f8"/>
<rect x="0" y="552" width="1280" height="1" fill="#ffffff"/>
<rect x="0" y="552" width="1" height="73" fill="#ffffff"/>
<rect x="88" y="553" width="1" height="72" fill="#808080"/><rect x="205" y="553" width="1" height="72" fill="#808080"/><rect x="323" y="553" width="1" height="72" fill="#808080"/><rect x="441" y="553" width="1" height="72" fill="#808080"/><rect x="560" y="553" width="1" height="72" fill="#808080"/><rect x="677" y="553" width="1" height="72" fill="#808080"/><rect x="795" y="553" width="1" height="72" fill="#808080"/><rect x="913" y="553" width="1" height="72" fill="#808080"/>
<g font-size="11" fill="#000">
<text x="8" y="571" text-anchor="start" font-weight="bold" letter-spacing="0.4">Sensor</text>
<text x="8" y="587" text-anchor="start" font-weight="bold" letter-spacing="0.4">MinWert</text>
<text x="8" y="603" text-anchor="start" font-weight="bold" letter-spacing="0.4">MaxWert</text>
<text x="8" y="619" text-anchor="start" font-weight="bold" letter-spacing="0.4">Durchschnitt</text>
<text x="95" y="571" text-anchor="start" font-weight="bold" letter-spacing="0.4">Temp. A.</text>
<text x="199" y="571" text-anchor="end" font-weight="bold" letter-spacing="0.4">°C</text>
<text x="100" y="587" text-anchor="start">00:55</text>
<text x="199" y="587" text-anchor="end">2.3</text>
<text x="100" y="603" text-anchor="start">12:55</text>
<text x="199" y="603" text-anchor="end">9.6</text>
<text x="199" y="619" text-anchor="end">5.90</text>
<text x="212" y="571" text-anchor="start" font-weight="bold" letter-spacing="0.4">Temp. I.</text>
<text x="316" y="571" text-anchor="end" font-weight="bold" letter-spacing="0.4">°C</text>
<text x="217" y="587" text-anchor="start">03:10</text>
<text x="316" y="587" text-anchor="end">23.2</text>
<text x="217" y="603" text-anchor="start">21:05</text>
<text x="316" y="603" text-anchor="end">25.4</text>
<text x="316" y="619" text-anchor="end">24.04</text>
<text x="684" y="571" text-anchor="start" font-weight="bold" letter-spacing="0.4">Luftdruck</text>
<text x="788" y="571" text-anchor="end" font-weight="bold" letter-spacing="0.4">hPa</text>
<text x="690.5" y="587" text-anchor="start">03:00</text>
<text x="788" y="587" text-anchor="end">1012.7</text>
<text x="690.5" y="603" text-anchor="start">20:05</text>
<text x="788" y="603" text-anchor="end">1016.9</text>
<text x="684.5" y="619" text-anchor="start">^1.3hPa/h</text>
<text x="788" y="619" text-anchor="end">1014.8</text>
<text x="802" y="571" text-anchor="start" font-weight="bold" letter-spacing="0.4">Regen</text>
<text x="906" y="571" text-anchor="end" font-weight="bold" letter-spacing="0.4">l/m²</text>
<text x="808.5" y="603" text-anchor="start">20:20</text>
<text x="906" y="603" text-anchor="end">0.2</text>
<text x="802.5" y="619" text-anchor="start">Gesamt:</text>
<text x="906" y="619" text-anchor="end">0.4</text>
<text x="920" y="571" text-anchor="start" font-weight="bold" letter-spacing="0.4">Wind</text>
<text x="1021.5" y="571" text-anchor="end" font-weight="bold" letter-spacing="0.4">km/h</text>
<text x="920.5" y="587" text-anchor="start">Ø 10 min.</text>
<text x="1021.5" y="587" text-anchor="end">0.0</text>
<text x="926" y="603" text-anchor="start">07:35</text>
<text x="1021.5" y="603" text-anchor="end">N-NW 36.1</text>
<text x="1021.5" y="619" text-anchor="end">6.6</text>
</g>
</svg>
</body></html>
